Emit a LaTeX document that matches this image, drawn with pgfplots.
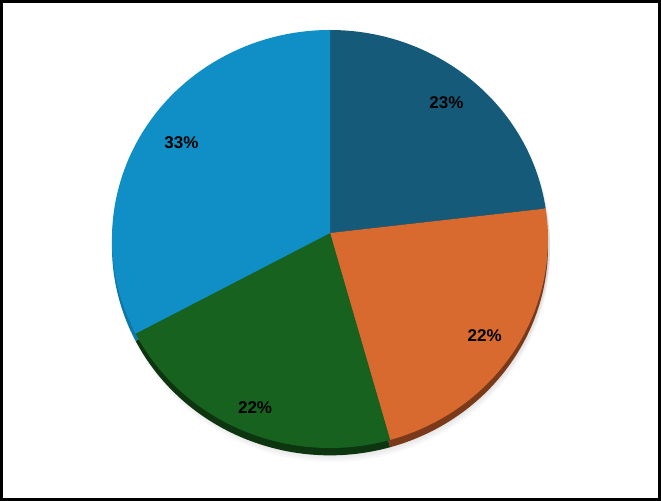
\documentclass[border=0pt]{standalone}
\usepackage{pgfplots}
\usepackage{pgfplotstable}
\usepackage{fontspec}
\setmainfont{Liberation Sans}
\pgfplotsset{compat=1.18}

\definecolor{cDark}{HTML}{155A79}
\definecolor{cOrange}{HTML}{D8692F}
\definecolor{cGreen}{HTML}{17621F}
\definecolor{cLight}{HTML}{0F8FC5}
\definecolor{sDark}{HTML}{0B3347}
\definecolor{sOrange}{HTML}{7A3A1A}
\definecolor{sGreen}{HTML}{0C3510}
\definecolor{sLight}{HTML}{0C78A8}

% shares in percent, clockwise from 12 o'clock
\pgfplotstableread{
share
23.2
22.3
21.9
32.6
}\pietable

% ray from the apex at screen angle #1 to the rim of the (tilted) pie:
% #2 = distance in px, #3 = parametric angle on the rim ellipse
% rim ellipse radii 2.18 / 2.09 (x100 px), apex 0.06 above its centre
\newcommand\rimat[3]{%
  \pgfmathsetmacro\tmpC{cos(#1)}%
  \pgfmathsetmacro\tmpS{sin(#1)}%
  \pgfmathsetmacro\tmpA{\tmpC*\tmpC/(2.18*2.18)+\tmpS*\tmpS/(2.09*2.09)}%
  \pgfmathsetmacro\tmpB{2*0.06*\tmpS/(2.09*2.09)}%
  \pgfmathsetmacro\tmpK{0.06*0.06/(2.09*2.09)-1}%
  \pgfmathsetmacro\tmpT{(-\tmpB+sqrt(\tmpB*\tmpB-4*\tmpA*\tmpK))/(2*\tmpA)}%
  \pgfmathsetmacro#2{100*\tmpT}%
  \pgfmathsetmacro#3{atan2((0.06+\tmpT*\tmpS)/2.09,\tmpT*\tmpC/2.18)}%
}

\begin{document}
\begin{tikzpicture}
  \pgfplotstablegetelem{0}{share}\of\pietable \let\sA\pgfplotsretval
  \pgfplotstablegetelem{1}{share}\of\pietable \let\sB\pgfplotsretval
  \pgfplotstablegetelem{2}{share}\of\pietable \let\sC\pgfplotsretval
  \pgfplotstablegetelem{3}{share}\of\pietable \let\sD\pgfplotsretval
  \pgfmathtruncatemacro\lA{round(\sA)}
  \pgfmathtruncatemacro\lB{round(\sB)}
  \pgfmathtruncatemacro\lC{round(\sC)}
  \pgfmathtruncatemacro\lD{round(\sD)}
  \pgfmathsetmacro\aA{90}
  \pgfmathsetmacro\aB{\aA-3.6*\sA}
  \pgfmathsetmacro\aC{\aB-3.6*\sB}
  \pgfmathsetmacro\aD{\aC-3.6*\sC}
  \pgfmathsetmacro\mA{(\aA+\aB)/2}
  \pgfmathsetmacro\mB{(\aB+\aC)/2}
  \pgfmathsetmacro\mC{(\aC+\aD)/2}
  \pgfmathsetmacro\mD{(\aD+\aA-360)/2}
  \rimat{\aA}{\tA}{\pA}
  \rimat{\aB}{\tB}{\pB}
  \rimat{\aC}{\tC}{\pC}
  \rimat{\aD}{\tD}{\pD}
  \pgfmathsetmacro\pE{\pA-360}
  \rimat{\mA}{\uA}{\qA}
  \rimat{\mB}{\uB}{\qB}
  \rimat{\mC}{\uC}{\qC}
  \rimat{\mD}{\uD}{\qD}
  % ellipse centre (cx,cy), apex (cx,py), radii in axis units and cm
  \def\cx{330}\def\cy{262}\def\py{268}
  \def\rx{218}\def\ry{209}
  \def\rxc{6.54cm}\def\ryc{6.27cm}
  \begin{axis}[
      x=0.03cm, y=0.03cm,
      xmin=1.5, xmax=659.5,
      ymin=1.5, ymax=499.5,
      ticks=none,
      axis line style={line width=0.09cm, black},
      clip=true,
      nodes={font=\fontsize{14.5}{16}\selectfont\bfseries, text=black},
    ]
    % soft grey shadow
    \pgfplotsinvokeforeach{2,4,6,8,10,12,14}{
      \fill[black, opacity=0.025] (axis cs:{\cx+2},{\cy-#1}) ellipse [x radius=\rxc, y radius=\ryc];
    }
    % extruded edge
    \fill[sDark, yshift=-0.22cm] (axis cs:\cx,\py) -- (axis cs:{\cx+\rx*cos(\pA)},{\cy+\ry*sin(\pA)}) arc[start angle=\pA, end angle=\pB, x radius=\rxc, y radius=\ryc] -- cycle;
    \fill[sOrange, yshift=-0.22cm] (axis cs:\cx,\py) -- (axis cs:{\cx+\rx*cos(\pB)},{\cy+\ry*sin(\pB)}) arc[start angle=\pB, end angle=\pC, x radius=\rxc, y radius=\ryc] -- cycle;
    \fill[sGreen, yshift=-0.22cm] (axis cs:\cx,\py) -- (axis cs:{\cx+\rx*cos(\pC)},{\cy+\ry*sin(\pC)}) arc[start angle=\pC, end angle=\pD, x radius=\rxc, y radius=\ryc] -- cycle;
    \fill[sLight, yshift=-0.22cm] (axis cs:\cx,\py) -- (axis cs:{\cx+\rx*cos(\pD)},{\cy+\ry*sin(\pD)}) arc[start angle=\pD, end angle=\pE, x radius=\rxc, y radius=\ryc] -- cycle;
    % slices
    \fill[cDark] (axis cs:\cx,\py) -- (axis cs:{\cx+\rx*cos(\pA)},{\cy+\ry*sin(\pA)}) arc[start angle=\pA, end angle=\pB, x radius=\rxc, y radius=\ryc] -- cycle;
    \fill[cOrange] (axis cs:\cx,\py) -- (axis cs:{\cx+\rx*cos(\pB)},{\cy+\ry*sin(\pB)}) arc[start angle=\pB, end angle=\pC, x radius=\rxc, y radius=\ryc] -- cycle;
    \fill[cGreen] (axis cs:\cx,\py) -- (axis cs:{\cx+\rx*cos(\pC)},{\cy+\ry*sin(\pC)}) arc[start angle=\pC, end angle=\pD, x radius=\rxc, y radius=\ryc] -- cycle;
    \fill[cLight] (axis cs:\cx,\py) -- (axis cs:{\cx+\rx*cos(\pD)},{\cy+\ry*sin(\pD)}) arc[start angle=\pD, end angle=\pE, x radius=\rxc, y radius=\ryc] -- cycle;
    % labels
    \node at (axis cs:{\cx+0.84*\uA*cos(\mA)},{\py+0.84*\uA*sin(\mA)}) {\lA\%};
    \node at (axis cs:{\cx+0.85*\uB*cos(\mB)},{\py+0.85*\uB*sin(\mB)}) {\lB\%};
    \node at (axis cs:{\cx+0.88*\uC*cos(\mC)},{\py+0.88*\uC*sin(\mC)}) {\lC\%};
    \node at (axis cs:{\cx+0.82*\uD*cos(\mD)},{\py+0.82*\uD*sin(\mD)}) {\lD\%};
  \end{axis}
\end{tikzpicture}
\end{document}
